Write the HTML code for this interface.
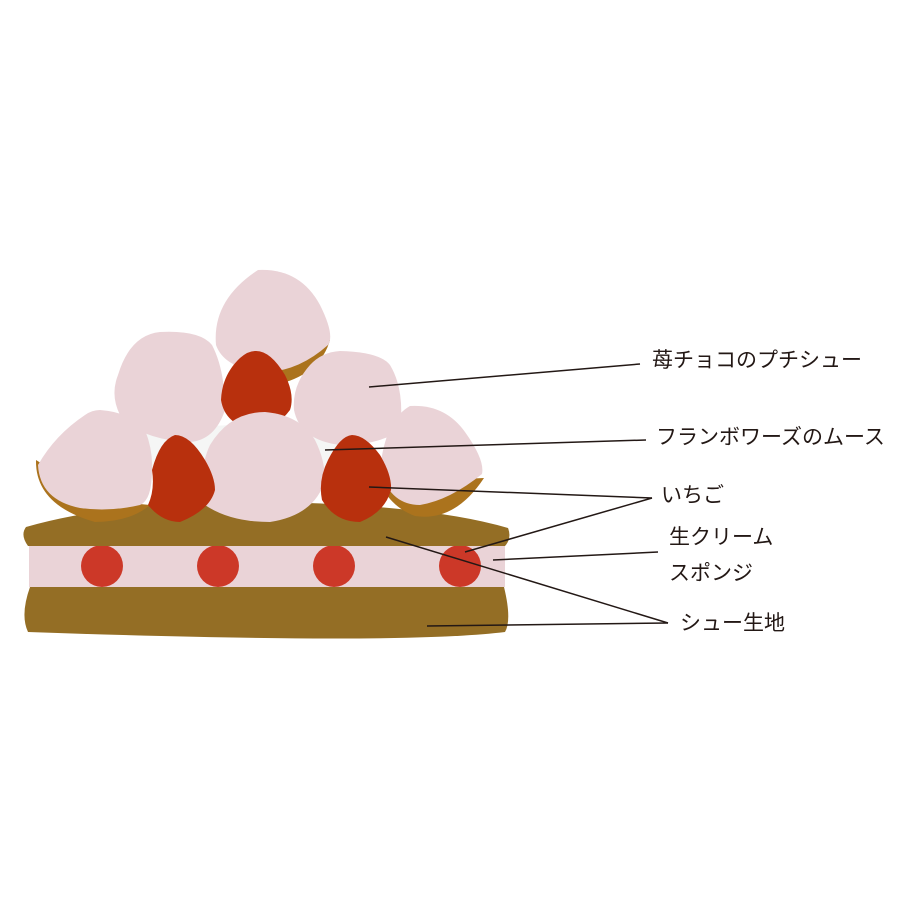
<!DOCTYPE html>
<html><head><meta charset="utf-8"><style>body{margin:0;background:#fff}svg{display:block}text{font-family:"Liberation Sans","Noto Sans CJK JP",sans-serif;font-size:21px;fill:#231815}</style></head><body>
<svg width="900" height="900" viewBox="0 0 900 900">
<rect width="900" height="900" fill="#fff"/>
<path d="M30 587 L504 587 Q512 620 505 632 Q400 645 28 632 Q20 615 30 587Z" fill="#946e25"/>
<rect x="29" y="546" width="476" height="41" fill="#ead3d7"/>
<circle cx="102" cy="566" r="21" fill="#cc3828"/>
<circle cx="218" cy="566" r="21" fill="#cc3828"/>
<circle cx="334" cy="566" r="21" fill="#cc3828"/>
<circle cx="460" cy="566" r="21" fill="#cc3828"/>
<path d="M28 546 Q20 535 26 527 Q120 500 270 502 Q430 505 508 528 Q512 538 505 546Z" fill="#946e25"/>
<path d="M140 430 L320 420 L380 470 L300 500 L150 470Z" fill="#f5f6f5"/>
<path d="M218 340 Q240 385 275 385 Q320 375 330 340 L300 345Z" fill="#ab731d"/>
<path d="M258 270 Q300 268 320 305 Q335 335 328 345 Q300 370 268 372 Q225 370 216 345 Q212 300 258 270Z" fill="#ead3d7"/>
<path d="M160 332 Q200 330 212 345 Q225 370 225 410 Q215 440 190 442 Q140 440 120 415 Q110 395 118 375 Q130 335 160 332Z" fill="#ead3d7"/>
<path d="M255 351 Q270 350 285 375 Q295 395 290 410 Q275 430 255 430 Q225 425 221 400 Q222 375 240 358 Q248 351 255 351Z" fill="#b8300d"/>
<path d="M340 351 Q380 352 390 365 Q405 390 400 430 Q380 445 340 445 Q300 440 294 410 Q292 385 310 365 Q322 352 340 351Z" fill="#ead3d7"/>
<path d="M375 470 Q385 505 415 516 Q455 522 484 478 L440 480Z" fill="#ab731d"/>
<path d="M410 406 Q445 404 465 432 Q485 460 482 474 Q450 500 420 505 Q390 505 380 470 Q385 420 410 406Z" fill="#ead3d7"/>
<path d="M36 460 Q35 505 95 522 Q130 522 150 505 L100 500Z" fill="#ab731d"/>
<path d="M100 410 Q130 412 145 430 Q153 450 152 470 Q152 500 140 505 Q110 512 80 508 Q40 500 38 465 Q55 435 85 415 Q92 410 100 410Z" fill="#ead3d7"/>
<path d="M265 412 Q300 415 315 440 Q325 460 325 480 Q315 515 270 522 Q230 522 205 505 Q198 470 210 445 Q230 412 265 412Z" fill="#ead3d7"/>
<path d="M175 435 Q190 435 205 460 Q215 477 215 490 Q210 510 180 522 Q162 522 148 505 Q155 490 152 470 Q160 440 175 435Z" fill="#b8300d"/>
<path d="M352 435 Q365 435 380 455 Q392 475 391 490 Q385 512 360 522 Q335 522 322 500 Q318 480 328 460 Q340 436 352 435Z" fill="#b8300d"/>
<g stroke="#231815" stroke-width="1.5" fill="none">
<line x1="369" y1="387" x2="640" y2="364"/>
<line x1="325" y1="450" x2="646" y2="440"/>
<line x1="369" y1="487" x2="652" y2="498"/>
<line x1="465" y1="552" x2="652" y2="498"/>
<line x1="493" y1="560" x2="658" y2="552"/>
<line x1="386" y1="537" x2="668" y2="623"/>
<line x1="427" y1="626" x2="668" y2="623"/>
</g>
<text x="652" y="367">苺チョコのプチシュー</text>
<text x="656" y="444">フランボワーズのムース</text>
<text x="661" y="502">いちご</text>
<text x="669" y="544">生クリーム</text>
<text x="669" y="580">スポンジ</text>
<text x="680" y="630">シュー生地</text>
</svg>
</body></html>
